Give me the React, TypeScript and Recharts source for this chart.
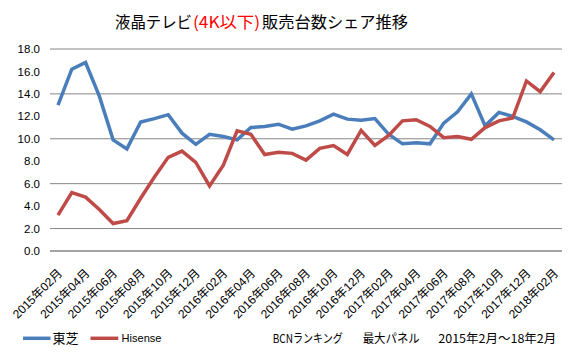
import React from 'react';
import { LineChart, Line, XAxis, YAxis, CartesianGrid } from 'recharts';

const months = [
  '2015年02月', '2015年03月', '2015年04月', '2015年05月', '2015年06月', '2015年07月',
  '2015年08月', '2015年09月', '2015年10月', '2015年11月', '2015年12月', '2016年01月',
  '2016年02月', '2016年03月', '2016年04月', '2016年05月', '2016年06月', '2016年07月',
  '2016年08月', '2016年09月', '2016年10月', '2016年11月', '2016年12月', '2017年01月',
  '2017年02月', '2017年03月', '2017年04月', '2017年05月', '2017年06月', '2017年07月',
  '2017年08月', '2017年09月', '2017年10月', '2017年11月', '2017年12月', '2018年01月',
  '2018年02月',
];

const toshiba = [
  13.0, 16.2, 16.8, 13.8, 9.9, 9.1, 11.5, 11.8, 12.15, 10.5, 9.5, 10.4,
  10.2, 9.9, 11.0, 11.1, 11.3, 10.85, 11.15, 11.6, 12.2, 11.75, 11.65, 11.8,
  10.4, 9.55, 9.65, 9.55, 11.4, 12.4, 14.0, 11.15, 12.35, 12.0, 11.5, 10.8,
  9.9,
];

const hisense = [
  3.2, 5.2, 4.8, 3.7, 2.45, 2.7, 4.7, 6.6, 8.35, 8.9, 7.9, 5.8,
  7.65, 10.7, 10.4, 8.6, 8.8, 8.7, 8.1, 9.15, 9.4, 8.6, 10.75, 9.4,
  10.3, 11.6, 11.7, 11.1, 10.1, 10.2, 9.95, 11.0, 11.6, 11.85, 15.15, 14.2,
  15.9,
];

const yTicks = [0, 2, 4, 6, 8, 10, 12, 14, 16, 18];

const seriesKeys = ['toshiba', 'hisense'];
const seriesNames = ['東芝', 'Hisense'];
const seriesColors = ['#4a7ebb', '#be4b48'];

const titleParts = ['液晶テレビ', '(4K以下)', '販売台数シェア推移'];
const sourceParts = ['BCNランキング', '最大パネル', '2015年2月～18年2月'];

const data = months.map((m, i) => ({ month: m, toshiba: toshiba[i], hisense: hisense[i] }));

const LATIN = '"Liberation Sans", Arial, "Noto Sans CJK JP", sans-serif';
const CJK = '"Noto Sans CJK JP", "Liberation Sans", sans-serif';

function XTick(props: any) {
  const { x, y, payload } = props;
  const ax = x + 5;
  const ay = y + 23;
  return (
    <text
      x={ax}
      y={ay}
      transform={`rotate(-45 ${ax} ${ay})`}
      textAnchor="end"
      fontSize={12}
      fill="#000"
      fontFamily={LATIN}
    >
      {payload.value}
    </text>
  );
}

export default function App() {
  return (
    <div style={{ position: 'absolute', left: 0, top: 0, width: 580, height: 355, background: '#fff' }}>
      <LineChart
        width={580}
        height={355}
        data={data}
        margin={{ top: 49, right: 18, bottom: 0, left: 0 }}
      >
        <CartesianGrid vertical={false} stroke="#868686" strokeWidth={1} />
        <XAxis
          dataKey="month"
          interval={1}
          tickLine={false}
          axisLine={{ stroke: '#868686' }}
          tickSize={0}
          tickMargin={0}
          height={104}
          padding={{ left: 8, right: 8 }}
          tick={<XTick />}
        />
        <YAxis
          domain={[0, 18]}
          ticks={yTicks}
          width={50}
          axisLine={false}
          tickLine={false}
          tickSize={0}
          tickMargin={10}
          tickFormatter={(v: number) => v.toFixed(1)}
          tick={{ fontSize: 11.5, fill: '#000', fontFamily: LATIN }}
        />
        {seriesKeys.map((k, i) => (
          <Line
            key={k}
            type="linear"
            dataKey={k}
            name={seriesNames[i]}
            stroke={seriesColors[i]}
            strokeWidth={3.5}
            dot={false}
            isAnimationActive={false}
          />
        ))}
      </LineChart>
      <svg
        width={580}
        height={355}
        style={{ position: 'absolute', left: 0, top: 0, pointerEvents: 'none' }}
      >
        <text x={115} y={28} fontSize={16} fontFamily={CJK} fill="#000" textLength={77} lengthAdjust="spacingAndGlyphs">
          {titleParts[0]}
        </text>
        <text x={193} y={28} fontSize={16} fontFamily={CJK} fill="#ff0000" textLength={67} lengthAdjust="spacingAndGlyphs">
          {titleParts[1]}
        </text>
        <text x={262} y={28} fontSize={16} fontFamily={CJK} fill="#000" textLength={146} lengthAdjust="spacingAndGlyphs">
          {titleParts[2]}
        </text>

        <line x1={23} x2={50.5} y1={338.3} y2={338.3} stroke={seriesColors[0]} strokeWidth={3.5} />
        <text x={52.5} y={342.5} fontSize={13} fontFamily={CJK} fill="#000" textLength={26} lengthAdjust="spacingAndGlyphs">
          {seriesNames[0]}
        </text>
        <line x1={90.5} x2={118.3} y1={338.3} y2={338.3} stroke={seriesColors[1]} strokeWidth={3.5} />
        <text x={121.5} y={342.3} fontSize={11} fontFamily={LATIN} fill="#000" textLength={40} lengthAdjust="spacingAndGlyphs">
          {seriesNames[1]}
        </text>

        <text x={272.7} y={342.5} fontSize={12} fontFamily={CJK} fill="#000" textLength={70} lengthAdjust="spacingAndGlyphs">
          {sourceParts[0]}
        </text>
        <text x={362.7} y={342.5} fontSize={12} fontFamily={CJK} fill="#000" textLength={57} lengthAdjust="spacingAndGlyphs">
          {sourceParts[1]}
        </text>
        <text x={438.3} y={342.5} fontSize={12} fontFamily={CJK} fill="#000" textLength={118} lengthAdjust="spacingAndGlyphs">
          {sourceParts[2]}
        </text>
      </svg>
    </div>
  );
}
